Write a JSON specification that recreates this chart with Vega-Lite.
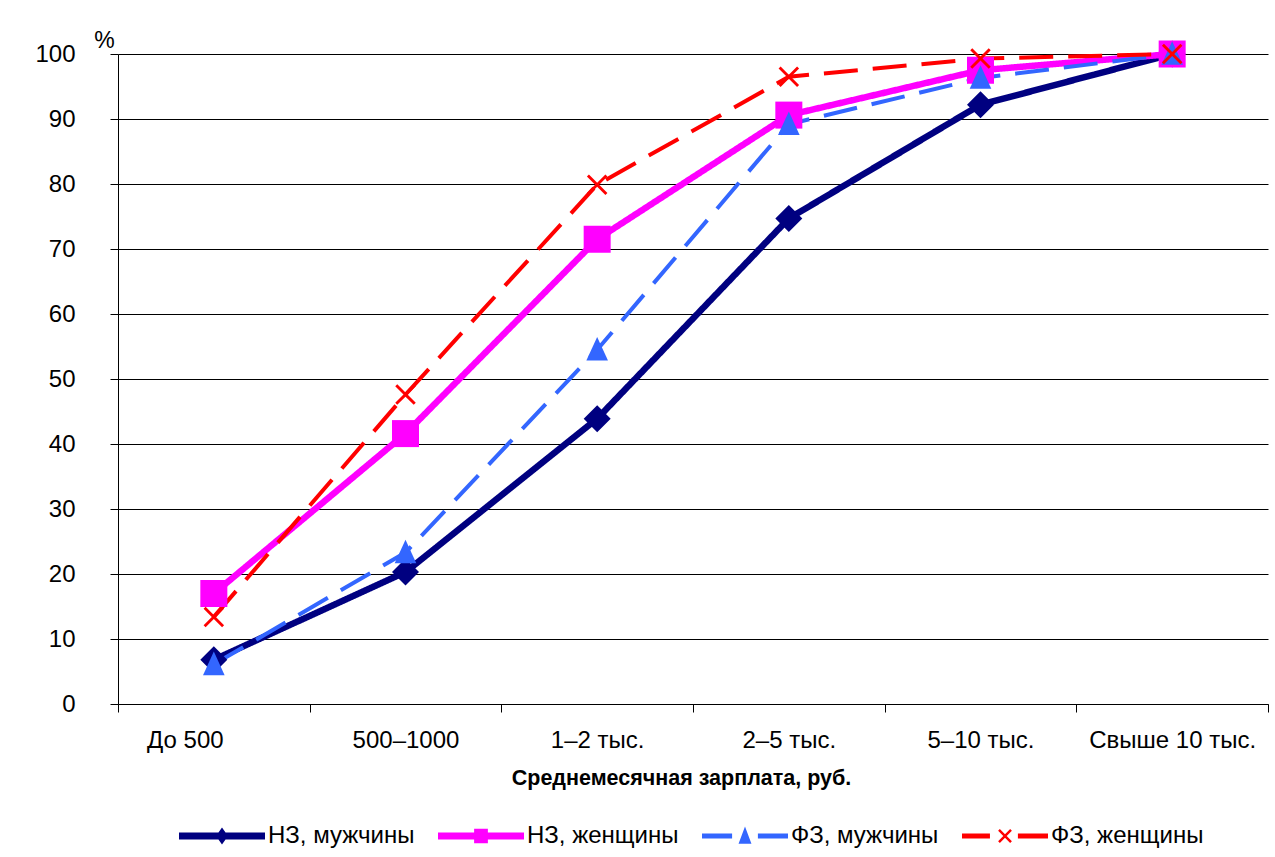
{
  "$schema": "https://vega.github.io/schema/vega-lite/v6.json",
  "autosize": "none",
  "width": 1150,
  "height": 650,
  "padding": {"left": 118, "top": 54, "right": 7, "bottom": 153},
  "background": "white",
  "config": {
    "font": "Liberation Sans",
    "view": {"stroke": null},
    "axis": {"labelColor": "black", "titleColor": "black", "labelFont": "Liberation Sans", "titleFont": "Liberation Sans"}
  },
  "data": {
    "values": [
      {"cat": "До 500", "series": "НЗ, мужчины", "value": 6.8},
      {"cat": "500–1000", "series": "НЗ, мужчины", "value": 20.3},
      {"cat": "1–2 тыс.", "series": "НЗ, мужчины", "value": 43.9},
      {"cat": "2–5 тыс.", "series": "НЗ, мужчины", "value": 74.7},
      {"cat": "5–10 тыс.", "series": "НЗ, мужчины", "value": 92.2},
      {"cat": "Свыше 10 тыс.", "series": "НЗ, мужчины", "value": 100},
      {"cat": "До 500", "series": "НЗ, женщины", "value": 17.0},
      {"cat": "500–1000", "series": "НЗ, женщины", "value": 41.6},
      {"cat": "1–2 тыс.", "series": "НЗ, женщины", "value": 71.5},
      {"cat": "2–5 тыс.", "series": "НЗ, женщины", "value": 90.6},
      {"cat": "5–10 тыс.", "series": "НЗ, женщины", "value": 97.5},
      {"cat": "Свыше 10 тыс.", "series": "НЗ, женщины", "value": 100},
      {"cat": "До 500", "series": "ФЗ, мужчины", "value": 6.1},
      {"cat": "500–1000", "series": "ФЗ, мужчины", "value": 23.3},
      {"cat": "1–2 тыс.", "series": "ФЗ, мужчины", "value": 54.5},
      {"cat": "2–5 тыс.", "series": "ФЗ, мужчины", "value": 89.2},
      {"cat": "5–10 тыс.", "series": "ФЗ, мужчины", "value": 96.3},
      {"cat": "Свыше 10 тыс.", "series": "ФЗ, мужчины", "value": 100},
      {"cat": "До 500", "series": "ФЗ, женщины", "value": 13.4},
      {"cat": "500–1000", "series": "ФЗ, женщины", "value": 47.6},
      {"cat": "1–2 тыс.", "series": "ФЗ, женщины", "value": 79.9},
      {"cat": "2–5 тыс.", "series": "ФЗ, женщины", "value": 96.5},
      {"cat": "5–10 тыс.", "series": "ФЗ, женщины", "value": 99.3},
      {"cat": "Свыше 10 тыс.", "series": "ФЗ, женщины", "value": 100}
    ]
  },
  "encoding": {
    "x": {
      "field": "cat", "type": "ordinal", "sort": null,
      "scale": {"type": "band", "paddingInner": 0, "paddingOuter": 0},
      "axis": {
        "title": "Среднемесячная зарплата, руб.",
        "titleFontSize": 21.5, "titleFontWeight": "bold",
        "titleX": 563, "titleY": 74, "titleBaseline": "middle", "titleAlign": "center",
        "labelAngle": 0, "labelFontSize": 24, "labelPadding": 16,
        "labelOffset": {"condition": {"test": "datum.value === 'До 500'", "value": -29}, "value": 0},
        "tickBand": "extent", "tickSize": 8, "tickColor": "black", "domainColor": "black",
        "grid": false
      }
    },
    "y": {
      "field": "value", "type": "quantitative",
      "scale": {"domain": [0, 100], "nice": false},
      "axis": {
        "values": [0, 10, 20, 30, 40, 50, 60, 70, 80, 90, 100],
        "title": "%", "titleAngle": 0, "titleFontSize": 23, "titleFontWeight": "normal",
        "titleX": -14, "titleY": -14, "titleAlign": "center", "titleBaseline": "middle",
        "labelFontSize": 24, "labelPadding": 35,
        "tickSize": 8, "tickColor": "black", "domainColor": "black",
        "grid": true, "gridColor": "black", "gridOpacity": 1, "gridWidth": 1
      }
    }
  },
  "layer": [
    {
      "mark": {"type": "line", "strokeCap": "butt", "strokeJoin": "miter"},
      "encoding": {
        "stroke": {
          "field": "series", "type": "nominal", "legend": null,
          "scale": {"domain": ["ФЗ, женщины", "ФЗ, мужчины", "НЗ, женщины", "НЗ, мужчины"], "range": ["#FF0000", "#3366FF", "#FF00FF", "#000080"]}
        },
        "strokeDash": {
          "field": "series", "type": "nominal", "legend": null,
          "scale": {"domain": ["ФЗ, женщины", "ФЗ, мужчины", "НЗ, женщины", "НЗ, мужчины"], "range": [[34, 15], [34, 15], [1, 0], [1, 0]]}
        },
        "strokeWidth": {
          "field": "series", "type": "nominal", "legend": null,
          "scale": {"type": "ordinal", "domain": ["ФЗ, женщины", "ФЗ, мужчины", "НЗ, женщины", "НЗ, мужчины"], "range": [4, 4, 6.5, 6.5]}
        }
      }
    },
    {
      "transform": [{"filter": {"field": "series", "equal": "НЗ, мужчины"}}],
      "mark": {"type": "point", "filled": true, "opacity": 1, "size": 729, "strokeWidth": 0, "shape": "M0,-1L1,0L0,1L-1,0Z"},
      "encoding": {"color": {"field": "series", "type": "nominal"}}
    },
    {
      "transform": [{"filter": {"field": "series", "equal": "НЗ, женщины"}}],
      "mark": {"type": "point", "filled": true, "opacity": 1, "size": 729, "strokeWidth": 0, "shape": "M-1,-1H1V1H-1Z"},
      "encoding": {"color": {"field": "series", "type": "nominal"}}
    },
    {
      "transform": [{"filter": {"field": "series", "equal": "ФЗ, мужчины"}}],
      "mark": {"type": "point", "filled": true, "opacity": 1, "size": 729, "strokeWidth": 0, "shape": "M0,-0.95L0.8,0.8L-0.8,0.8Z"},
      "encoding": {"color": {"field": "series", "type": "nominal"}}
    },
    {
      "transform": [{"filter": {"field": "series", "equal": "ФЗ, женщины"}}],
      "mark": {"type": "point", "filled": true, "opacity": 1, "size": 729, "strokeWidth": 0, "shape": "M-0.76,-0.61L-0.61,-0.76L0,-0.15L0.61,-0.76L0.76,-0.61L0.15,0L0.76,0.61L0.61,0.76L0,0.15L-0.61,0.76L-0.76,0.61L-0.15,0Z"},
      "encoding": {"color": {"field": "series", "type": "nominal"}}
    },
    {
      "mark": {"type": "point", "filled": true, "opacity": 0, "size": 10, "strokeWidth": 0},
      "encoding": {
        "color": {
          "field": "series", "type": "nominal",
          "scale": {"domain": ["НЗ, мужчины", "НЗ, женщины", "ФЗ, мужчины", "ФЗ, женщины"], "range": ["#000080", "#FF00FF", "#3366FF", "#FF0000"]},
          "legend": {
            "title": null, "orient": "none", "direction": "horizontal",
            "legendX": 61, "legendY": 739,
            "symbolSize": 7396, "symbolStrokeWidth": 0, "symbolOpacity": 1,
            "labelFontSize": 24, "labelFont": "Liberation Sans", "labelColor": "black", "labelOffset": 3,
            "columnPadding": 23
          }
        },
        "shape": {
          "field": "series", "type": "nominal",
          "legend": {
            "title": null, "orient": "none", "direction": "horizontal",
            "legendX": 61, "legendY": 739,
            "symbolSize": 7396, "symbolStrokeWidth": 0, "symbolOpacity": 1,
            "labelFontSize": 24, "labelFont": "Liberation Sans", "labelColor": "black", "labelOffset": 3,
            "columnPadding": 23
          },
          "scale": {
            "domain": ["НЗ, мужчины", "НЗ, женщины", "ФЗ, мужчины", "ФЗ, женщины"],
            "range": [
              "M-1,-0.08H1V0.08H-1ZM0,-0.2L0.14,0L0,0.2L-0.14,0Z",
              "M-1,-0.08H1V0.08H-1ZM-0.16,-0.17H0.16V0.17H-0.16Z",
              "M-1,-0.06H-0.3V0.06H-1ZM0.3,-0.06H1V0.06H0.3ZM0,-0.22L0.15,0.18L-0.15,0.18Z",
              "M-1,-0.06H-0.35V0.06H-1ZM0.3,-0.06H1V0.06H0.3ZM-0.16,-0.12L-0.12,-0.16L0,-0.04L0.12,-0.16L0.16,-0.12L0.04,0L0.16,0.12L0.12,0.16L0,0.04L-0.12,0.16L-0.16,0.12L-0.04,0Z"
            ]
          }
        }
      }
    }
  ]
}
